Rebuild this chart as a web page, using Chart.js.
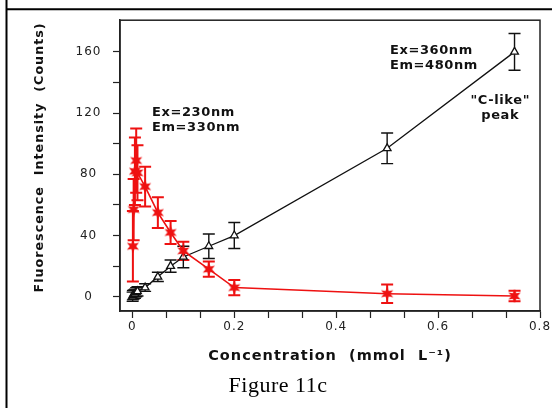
<!DOCTYPE html>
<html>
<head>
<meta charset="utf-8">
<script src="https://cdn.jsdelivr.net/npm/chart.js@4.4.1/dist/chart.umd.min.js"></script>
<style>
  html, body { margin: 0; padding: 0; background: #fff; }
  #wrap { width: 552px; height: 408px; }
</style>
</head>
<body>
<div id="wrap"><canvas id="fig" width="552" height="408"></canvas></div>
<script>
'use strict';

// --- data ---
const blackX = [0.0005, 0.001, 0.0025, 0.005, 0.0075, 0.01, 0.025, 0.05, 0.075, 0.1, 0.15, 0.2, 0.5, 0.75];
const blackY = [0, 1, 1.5, 2, 3, 3.5, 6, 13, 20, 26, 33, 40, 97, 160];
const blackErr = [3, 3, 3, 3, 3, 3, 2.5, 3, 4, 7, 8, 8.5, 10, 12];

const redX = [0.001, 0.0025, 0.005, 0.0075, 0.01, 0.025, 0.05, 0.075, 0.1, 0.15, 0.2, 0.5, 0.75];
const redY = [33, 57, 82, 89, 81, 72, 55, 42, 30, 18, 6, 2, 0.5];
const redErr = [23, 20, 22, 21, 18, 13, 10, 7.5, 6, 5, 5, 6, 3.5];

const xTickValues = [0, 0.2, 0.4, 0.6, 0.8];
const yTickValues = [0, 40, 80, 120, 160];

const caption = 'Figure 11c';

const INK = '#222';
const RED = '#ee1111';

// filled six point star used for the red series
function makeStar(size, color) {
    const c = document.createElement('canvas');
    c.width = size; c.height = size;
    const g = c.getContext('2d');
    const r = size / 2, ri = r * 0.45;
    g.fillStyle = color;
    g.beginPath();
    for (let i = 0; i < 12; i++) {
        const a = -Math.PI / 2 + i * Math.PI / 6;
        const rr = i % 2 ? ri : r;
        g.lineTo(r + rr * Math.cos(a), r + rr * Math.sin(a));
    }
    g.closePath();
    g.fill();
    return c;
}

function toPoints(xs, ys) {
    return xs.map((x, i) => ({ x: x, y: ys[i] }));
}

// minor ticks: y every 20, x every third of 0.2
function yTicks() {
    const t = [];
    for (let v = 0; v <= 160; v += 20) t.push({ value: v });
    return t;
}
function xTicks() {
    const t = [];
    xTickValues.forEach((v, i) => {
        t.push({ value: v });
        if (i < xTickValues.length - 1) {
            const step = (xTickValues[i + 1] - v) / 3;
            t.push({ value: v + step }, { value: v + 2 * step });
        }
    });
    return t;
}

// --- plugins ---
const framePlugin = {
    id: 'frame',
    beforeDraw(chart) {
        const ctx = chart.ctx;
        ctx.fillStyle = '#fff';
        ctx.fillRect(0, 0, chart.width, chart.height);
        ctx.save();
        ctx.strokeStyle = '#000';
        ctx.lineWidth = 2;
        ctx.beginPath();
        ctx.moveTo(6.5, 0); ctx.lineTo(6.5, chart.height);
        ctx.moveTo(6.5, 9.3); ctx.lineTo(chart.width, 9.3);
        ctx.stroke();
        ctx.restore();
        // the old plotting software spaces its letters out a little
        ctx.letterSpacing = '1px';
    },
    afterDraw(chart) {
        const a = chart.chartArea, ctx = chart.ctx;
        ctx.save();
        ctx.strokeStyle = INK;
        ctx.lineWidth = 1.5;
        ctx.strokeRect(a.left, a.top, a.right - a.left, a.bottom - a.top);
        // figure caption under the chart
        ctx.letterSpacing = '0.5px';
        ctx.fillStyle = '#000';
        ctx.font = '22px "Liberation Serif", "Times New Roman", serif';
        ctx.textAlign = 'center';
        ctx.textBaseline = 'middle';
        ctx.fillText(caption, 278, 386);
        ctx.restore();
    }
};

const errorBarPlugin = {
    id: 'errorBars',
    beforeDatasetsDraw(chart) {
        const ctx = chart.ctx;
        const xs = chart.scales.x, ys = chart.scales.y;
        ctx.save();
        chart.data.datasets.forEach(ds => {
            ctx.strokeStyle = ds.borderColor;
            ctx.lineWidth = ds.errWidth;
            ds.data.forEach((p, i) => {
                const e = ds.errors[i];
                const px = xs.getPixelForValue(p.x);
                const top = ys.getPixelForValue(p.y + e);
                const bot = ys.getPixelForValue(p.y - e);
                const cap = 6;
                ctx.beginPath();
                ctx.moveTo(px, top); ctx.lineTo(px, bot);
                ctx.moveTo(px - cap, top); ctx.lineTo(px + cap, top);
                ctx.moveTo(px - cap, bot); ctx.lineTo(px + cap, bot);
                ctx.stroke();
            });
        });
        ctx.restore();
    }
};

const notes = [
    { lines: ['Ex=230nm', 'Em=330nm'], x: 0.0385, y: 120, align: 'left' },
    { lines: ['Ex=360nm', 'Em=480nm'], x: 0.5055, y: 161, align: 'left' },
    { lines: ['"C-like"', 'peak'], x: 0.722, y: 128, align: 'center' }
];

const notePlugin = {
    id: 'notes',
    afterDatasetsDraw(chart) {
        const ctx = chart.ctx;
        const xs = chart.scales.x, ys = chart.scales.y;
        ctx.save();
        ctx.fillStyle = '#111';
        ctx.font = 'bold 13px "DejaVu Sans"';
        ctx.letterSpacing = '0.6px';
        ctx.textBaseline = 'middle';
        notes.forEach(n => {
            ctx.textAlign = n.align;
            const px = xs.getPixelForValue(n.x);
            const py = ys.getPixelForValue(n.y);
            n.lines.forEach((t, k) => ctx.fillText(t, px, py + k * 15));
        });
        ctx.restore();
    }
};

new Chart(document.getElementById('fig'), {
    type: 'line',
    data: {
        datasets: [{
            label: 'Ex=230nm Em=330nm',
            data: toPoints(redX, redY),
            errors: redErr,
            errWidth: 2,
            borderColor: RED,
            backgroundColor: RED,
            borderWidth: 1.6,
            pointStyle: makeStar(14, RED),
            pointRadius: 6,
            tension: 0
        }, {
            label: 'Ex=360nm Em=480nm',
            data: toPoints(blackX, blackY),
            errors: blackErr,
            errWidth: 1.4,
            borderColor: '#111',
            backgroundColor: '#fff',
            borderWidth: 1.3,
            pointStyle: 'triangle',
            pointRadius: 4.5,
            pointBorderWidth: 1.3,
            tension: 0
        }]
    },
    options: {
        responsive: false,
        animation: false,
        events: [],
        layout: { padding: { top: 20, right: 12, left: 0, bottom: 36.4 } },
        plugins: {
            legend: { display: false },
            tooltip: { enabled: false },
            title: { display: false }
        },
        scales: {
            x: {
                type: 'linear',
                min: -0.0243,
                max: 0.8,
                afterFit: s => { s.height = 60.6; },
                afterBuildTicks: s => { s.ticks = xTicks(); },
                border: { display: true, color: INK, width: 1.5 },
                grid: { drawOnChartArea: false, drawTicks: true, tickLength: 7, color: INK, tickWidth: 1.2 },
                ticks: {
                    color: INK,
                    padding: 2,
                    maxRotation: 0,
                    autoSkip: false,
                    font: { family: '"DejaVu Sans"', size: 12 },
                    callback: v => xTickValues.includes(v) ? String(v) : ''
                },
                title: {
                    display: true,
                    text: 'Concentration  (mmol  L\u207B\u00B9)',
                    color: '#111',
                    font: { family: '"DejaVu Sans"', size: 14.5, weight: 'bold' },
                    padding: { top: 0, bottom: 6.6 }
                }
            },
            y: {
                type: 'linear',
                min: -9.3,
                max: 180.7,
                afterFit: s => { s.width = 120; },
                afterBuildTicks: s => { s.ticks = yTicks(); },
                border: { display: true, color: INK, width: 1.5 },
                grid: { drawOnChartArea: false, drawTicks: true, tickLength: 7, color: INK, tickWidth: 1.2 },
                ticks: {
                    color: INK,
                    padding: 13,
                    crossAlign: 'center',
                    autoSkip: false,
                    font: { family: '"DejaVu Sans"', size: 12 },
                    callback: v => yTickValues.includes(v) ? String(v) : ''
                },
                title: {
                    display: true,
                    text: '   Fluorescence  Intensity  (Counts)',
                    color: '#111',
                    font: { family: '"DejaVu Sans"', size: 12.7, weight: 'bold' },
                    padding: { top: 32, bottom: 0 }
                }
            }
        }
    },
    plugins: [framePlugin, errorBarPlugin, notePlugin]
});
</script>
</body>
</html>
